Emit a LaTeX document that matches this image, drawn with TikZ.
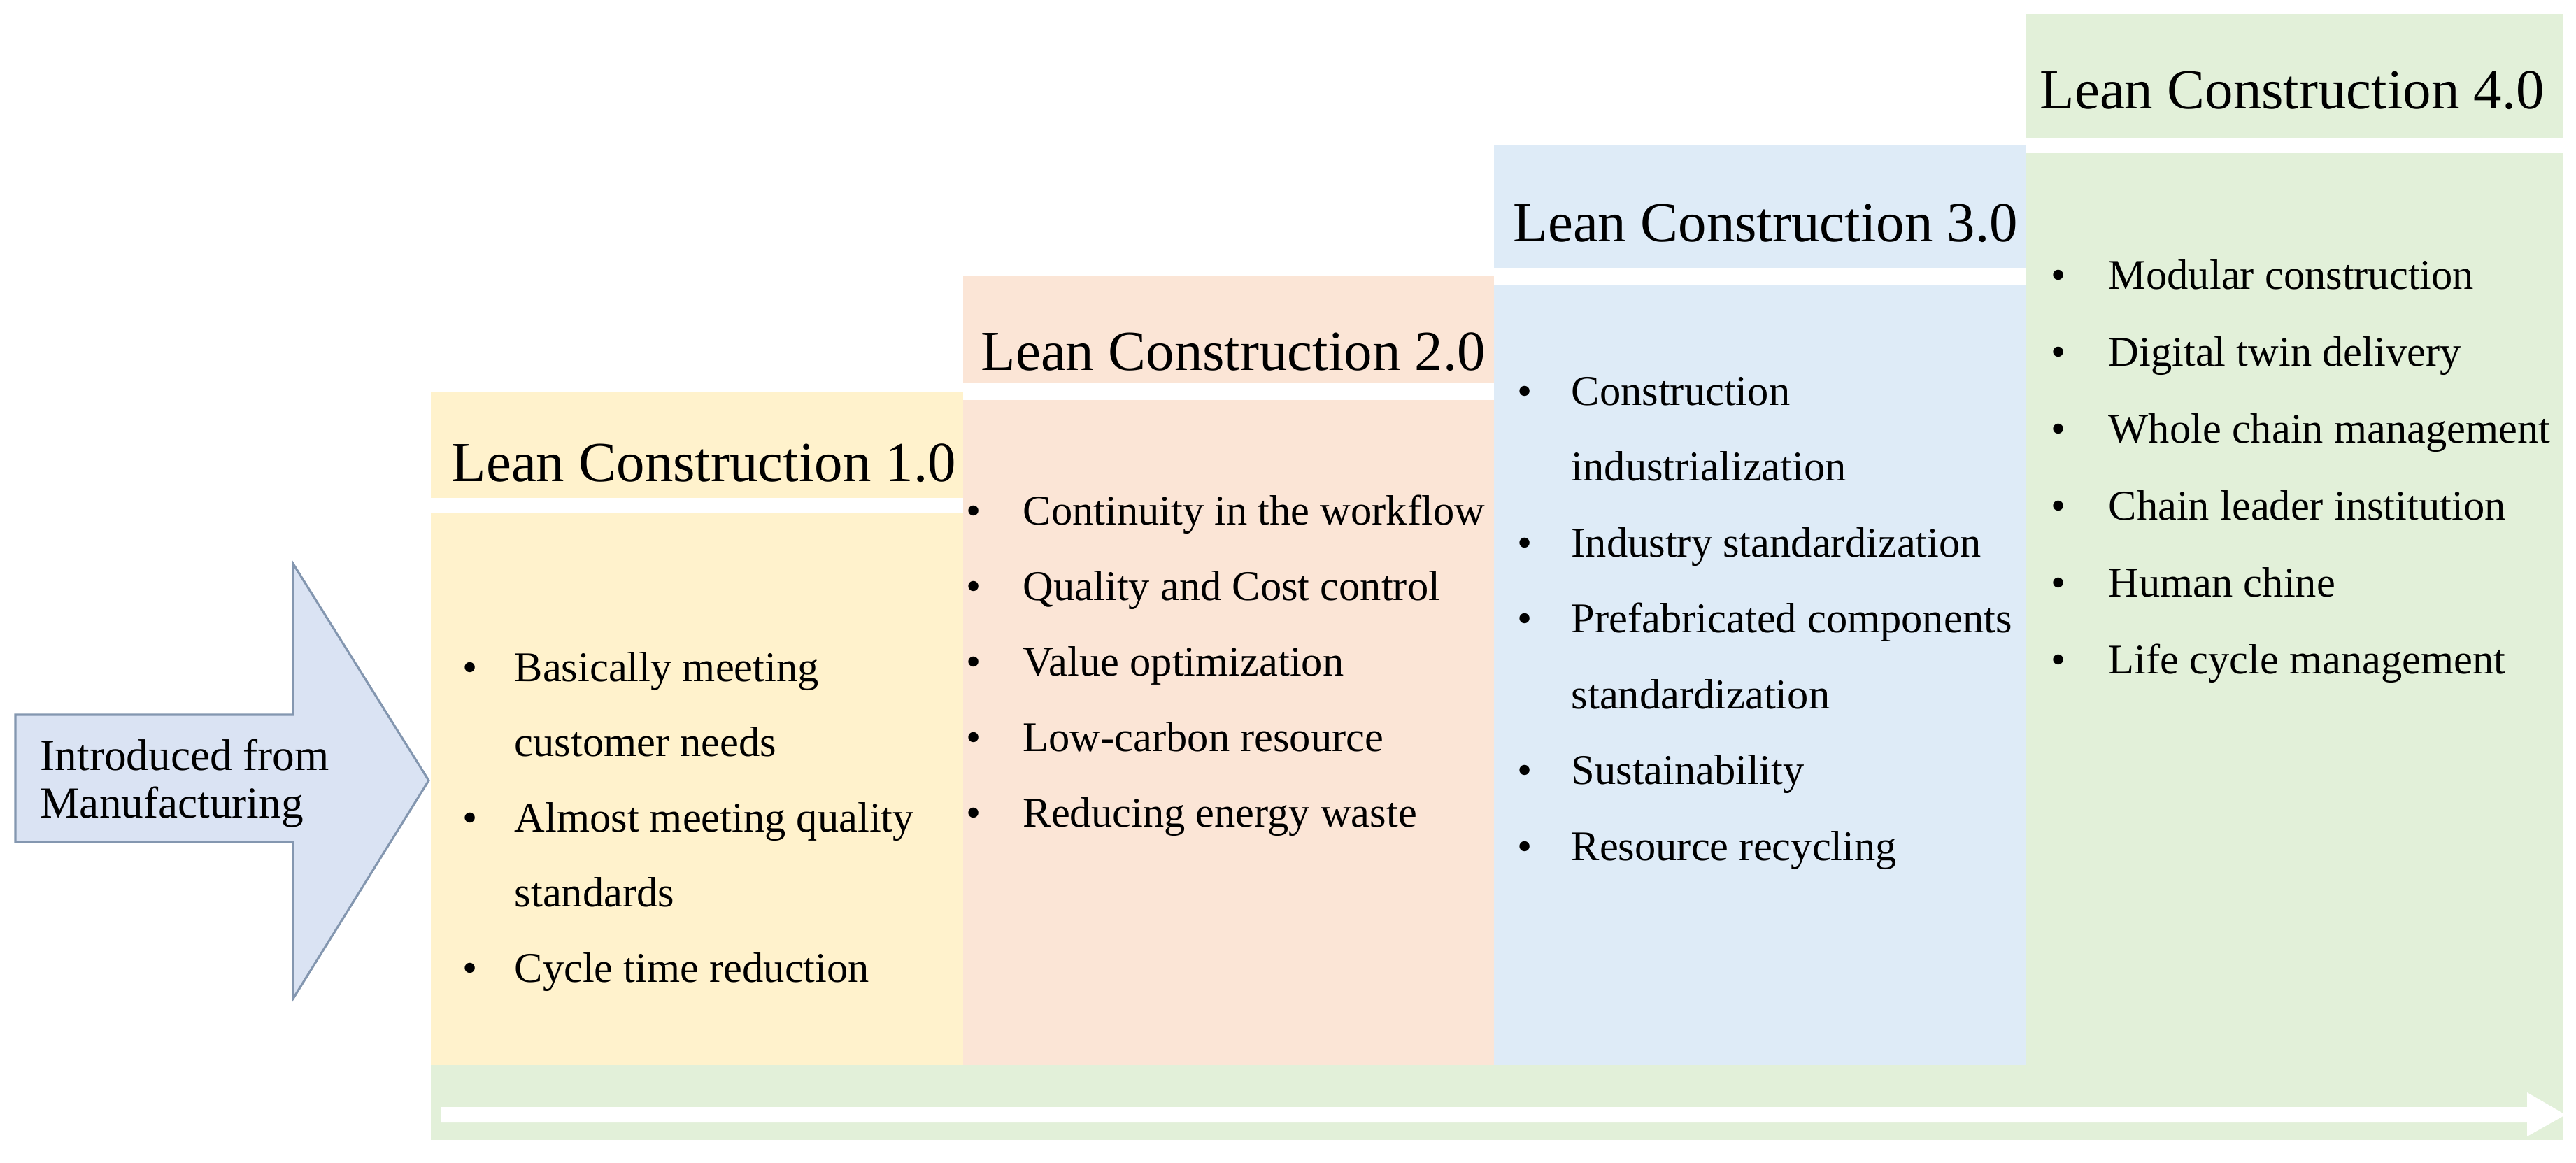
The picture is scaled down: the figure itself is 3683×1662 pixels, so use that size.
\documentclass[tikz,border=0pt]{standalone}
\usepackage{fontspec}
\setmainfont{Liberation Serif}
\definecolor{cyellow}{HTML}{FFF2CC}
\definecolor{cpink}{HTML}{FBE5D6}
\definecolor{cblue}{HTML}{DEEBF7}
\definecolor{cgreen}{HTML}{E2F0D9}
\definecolor{arrowfill}{HTML}{DAE3F3}
\definecolor{arrowline}{HTML}{8497B0}
\newcommand{\lcitem}[5]{\node[bulletmark] (#1-b) at (#2,#4) {\textbullet}; \node[bodytext] (#1) at (#3,#4) {#5};}
\newcommand{\lcmore}[4]{\node[bodytext] (#1) at (#2,#3) {#4};}
\begin{document}
\begin{tikzpicture}[x=0.01cm,y=-0.01cm,
  titletext/.style={anchor=base west, inner sep=0, font=\fontsize{23}{27}\selectfont},
  bodytext/.style={anchor=base west, inner sep=0, font=\fontsize{17.2}{20}\selectfont},
  introtext/.style={anchor=base west, inner sep=0, font=\fontsize{18}{21}\selectfont},
  bulletmark/.style={anchor=base, inner sep=0, font=\fontsize{17.2}{20}\selectfont}]
\fill[white] (0,0) rectangle (3683,1662);
\useasboundingbox (0,0) rectangle (3683,1662);
% panels
\fill[cyellow] (616,560) rectangle (1377,712);
\fill[cyellow] (616,734) rectangle (1377,1523);
\fill[cpink] (1377,394) rectangle (2136,547);
\fill[cpink] (1377,572) rectangle (2136,1523);
\fill[cblue] (2136,208) rectangle (2896,383);
\fill[cblue] (2136,407) rectangle (2896,1523);
\fill[cgreen] (2896,20) rectangle (3665,198);
\fill[cgreen] (2896,219) rectangle (3665,1630);
\fill[cgreen] (616,1523) rectangle (3665,1630);
% bottom white arrow
\fill[white] (631,1583) -- (3613,1583) -- (3613,1562) -- (3668,1594) -- (3613,1625) -- (3613,1605) -- (631,1605) -- cycle;
% big arrow
\draw[arrowline, fill=arrowfill, line width=0.9pt, line join=miter]
  (22,1022) -- (419,1022) -- (419,806) -- (613,1116) -- (419,1428) -- (419,1204) -- (22,1204) -- cycle;
\node[introtext] (intro1) at (57,1101) {Introduced from};
\node[introtext] (intro2) at (57,1169) {Manufacturing};
% titles
\node[titletext] (t1) at (645,688) {Lean Construction 1.0};
\node[titletext] (t2) at (1402,529) {Lean Construction 2.0};
\node[titletext] (t3) at (2163,345) {Lean Construction 3.0};
\node[titletext] (t4) at (2916,155) {Lean Construction 4.0};
% column 1
\lcitem{a1}{672}{735}{974}{Basically meeting}
\lcmore{a1c}{735}{1081.5}{customer needs}
\lcitem{a2}{672}{735}{1189}{Almost meeting quality}
\lcmore{a2c}{735}{1296.5}{standards}
\lcitem{a3}{672}{735}{1404}{Cycle time reduction}
% column 2
\lcitem{b1}{1392}{1462}{750}{Continuity in the workflow}
\lcitem{b2}{1392}{1462}{858}{Quality and Cost control}
\lcitem{b3}{1392}{1462}{966}{Value optimization}
\lcitem{b4}{1392}{1462}{1074}{Low-carbon resource}
\lcitem{b5}{1392}{1462}{1182}{Reducing energy waste}
% column 3
\lcitem{c1}{2180}{2246}{579}{Construction}
\lcmore{c1c}{2246}{687.5}{industrialization}
\lcitem{c2}{2180}{2246}{796}{Industry standardization}
\lcitem{c3}{2180}{2246}{904.5}{Prefabricated components}
\lcmore{c3c}{2246}{1013}{standardization}
\lcitem{c4}{2180}{2246}{1121.5}{Sustainability}
\lcitem{c5}{2180}{2246}{1230}{Resource recycling}
% column 4
\lcitem{d1}{2943}{3014}{413}{Modular construction}
\lcitem{d2}{2943}{3014}{523}{Digital twin delivery}
\lcitem{d3}{2943}{3014}{633}{Whole chain management}
\lcitem{d4}{2943}{3014}{743}{Chain leader institution}
\lcitem{d5}{2943}{3014}{853}{Human chine}
\lcitem{d6}{2943}{3014}{963}{Life cycle management}
\end{tikzpicture}
\end{document}
